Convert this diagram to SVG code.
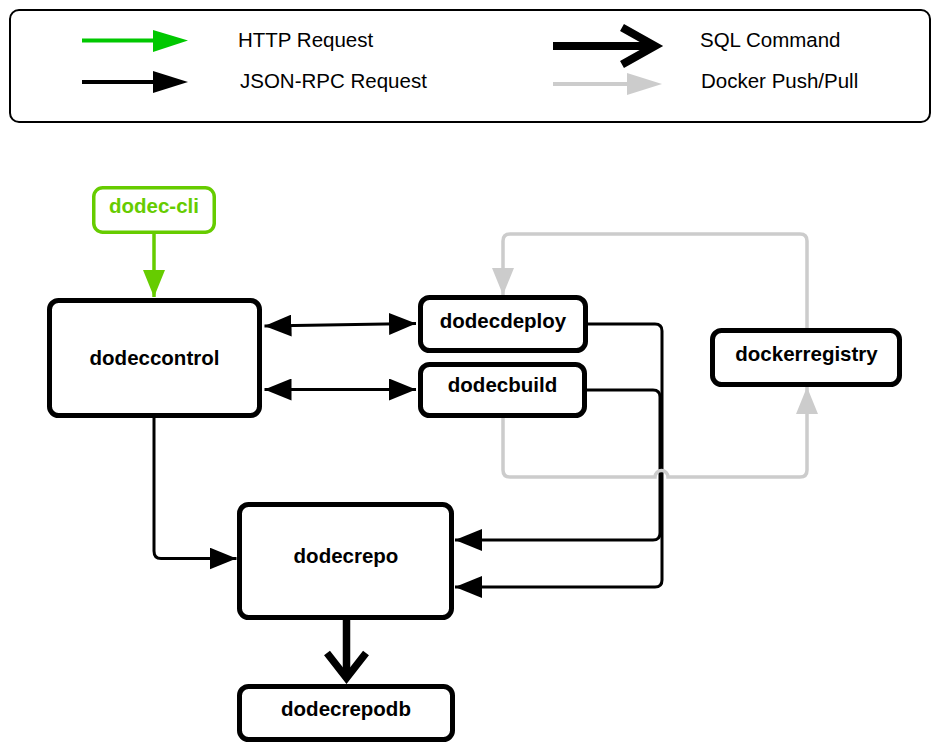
<svg xmlns="http://www.w3.org/2000/svg" width="942" height="746" viewBox="0 0 942 746">
<defs>
<style>
.node{fill:#fff;stroke:#000;stroke-width:5}
.lbl{font-family:"Liberation Sans",Arial,sans-serif;font-size:20.5px;font-weight:bold;text-anchor:middle;fill:#000}
.leg{font-family:"Liberation Sans",Arial,sans-serif;font-size:20.5px;fill:#000}
.rpc{fill:none;stroke:#000;stroke-width:3}
.dock{fill:none;stroke:#cccccc;stroke-width:3.5}
.http{fill:none;stroke:#66cc00;stroke-width:3.5}
.sql{fill:none;stroke:#000;stroke-width:7.5;stroke-linejoin:miter}
</style>
<marker id="ab" viewBox="0 0 27 22" refX="27" refY="11" markerWidth="27" markerHeight="22" markerUnits="userSpaceOnUse" orient="auto-start-reverse"><path d="M0,0 L27,11 L0,22 z" fill="#000"/></marker>
<marker id="ag" viewBox="0 0 27 22" refX="27" refY="11" markerWidth="27" markerHeight="22" markerUnits="userSpaceOnUse" orient="auto"><path d="M0,0 L27,11 L0,22 z" fill="#cccccc"/></marker>
<marker id="agr" viewBox="0 0 27 22" refX="27" refY="11" markerWidth="27" markerHeight="22" markerUnits="userSpaceOnUse" orient="auto"><path d="M0,0 L27,11 L0,22 z" fill="#66cc00"/></marker>
</defs>

<g id="legend">
<rect x="10" y="10" width="920" height="112" rx="9" fill="#fff" stroke="#000" stroke-width="2"/>
<line x1="82" y1="40.5" x2="156" y2="40.5" stroke="#00c800" stroke-width="4"/>
<polygon points="153,30 188,40.5 153,52" fill="#00c800"/>
<text class="leg" x="238" y="46.5">HTTP Request</text>
<line x1="82" y1="82" x2="156" y2="82" stroke="#000" stroke-width="4"/>
<polygon points="153,71 188,82 153,93" fill="#000"/>
<text class="leg" x="240" y="87.5">JSON-RPC Request</text>
<line x1="553" y1="46" x2="652" y2="46" stroke="#000" stroke-width="8"/>
<polyline points="622,27.5 655,46 622,64.5" fill="none" stroke="#000" stroke-width="8" stroke-linejoin="miter"/>
<text class="leg" x="700" y="46.5">SQL Command</text>
<line x1="553" y1="84" x2="630" y2="84" stroke="#cccccc" stroke-width="4"/>
<polygon points="627,73 662,84 627,95" fill="#cccccc"/>
<text class="leg" x="701" y="87.5">Docker Push/Pull</text>
</g>

<g id="connectors">
<path class="http" d="M154,233 V297" marker-end="url(#agr)"/>
<path class="rpc" d="M264.5,326 L416,323.5" marker-start="url(#ab)" marker-end="url(#ab)"/>
<path class="rpc" d="M264.5,389.5 L416,389.5" marker-start="url(#ab)" marker-end="url(#ab)"/>
<path class="rpc" d="M154,418 V551 Q154,558.5 161,558.5 H236.5" marker-end="url(#ab)"/>
<path class="rpc" d="M585,390 H653 Q660,390 660,397 V533 Q660,540 653,540 H455" marker-end="url(#ab)"/>
<path class="rpc" d="M586,324 H655 Q662,324 662,331 V580 Q662,587 655,587 H455" marker-end="url(#ab)"/>
<path class="dock" d="M807,329 V241 Q807,234 800,234 H510 Q503,234 503,241 V295" marker-end="url(#ag)"/>
<path class="dock" d="M503,418 V470 Q503,477 510,477 H655 A6.5,6.5 0 0 1 668,477 H800 Q807,477 807,470 V387" marker-end="url(#ag)"/>
<line x1="346.5" y1="619" x2="346.5" y2="676" stroke="#000" stroke-width="7.5"/>
<polyline class="sql" points="327,653 346.5,678 366,653"/>
</g>

<g id="dodec-cli">
<rect x="93.75" y="187.75" width="120.5" height="44.5" rx="9" fill="#fff" stroke="#66cc00" stroke-width="3.5"/>
<text class="lbl" x="154" y="213" fill="#66cc00" style="fill:#66cc00">dodec-cli</text>
</g>
<g id="dodeccontrol">
<rect class="node" x="49.5" y="300.5" width="210" height="115" rx="9"/>
<text class="lbl" x="154.5" y="364.5">dodeccontrol</text>
</g>
<g id="dodecdeploy">
<rect class="node" x="420.5" y="297.5" width="165" height="53" rx="9"/>
<text class="lbl" x="503" y="327.5">dodecdeploy</text>
</g>
<g id="dodecbuild">
<rect class="node" x="420.5" y="364.5" width="164" height="51" rx="9"/>
<text class="lbl" x="502.5" y="392">dodecbuild</text>
</g>
<g id="dockerregistry">
<rect class="node" x="712.5" y="330.5" width="187" height="54" rx="9"/>
<text class="lbl" x="806.5" y="361">dockerregistry</text>
</g>
<g id="dodecrepo">
<rect class="node" x="239.5" y="504.5" width="212" height="113" rx="9"/>
<text class="lbl" x="346" y="563">dodecrepo</text>
</g>
<g id="dodecrepodb">
<rect class="node" x="239.5" y="686.5" width="213" height="53" rx="9"/>
<text class="lbl" x="346" y="716">dodecrepodb</text>
</g>
</svg>
